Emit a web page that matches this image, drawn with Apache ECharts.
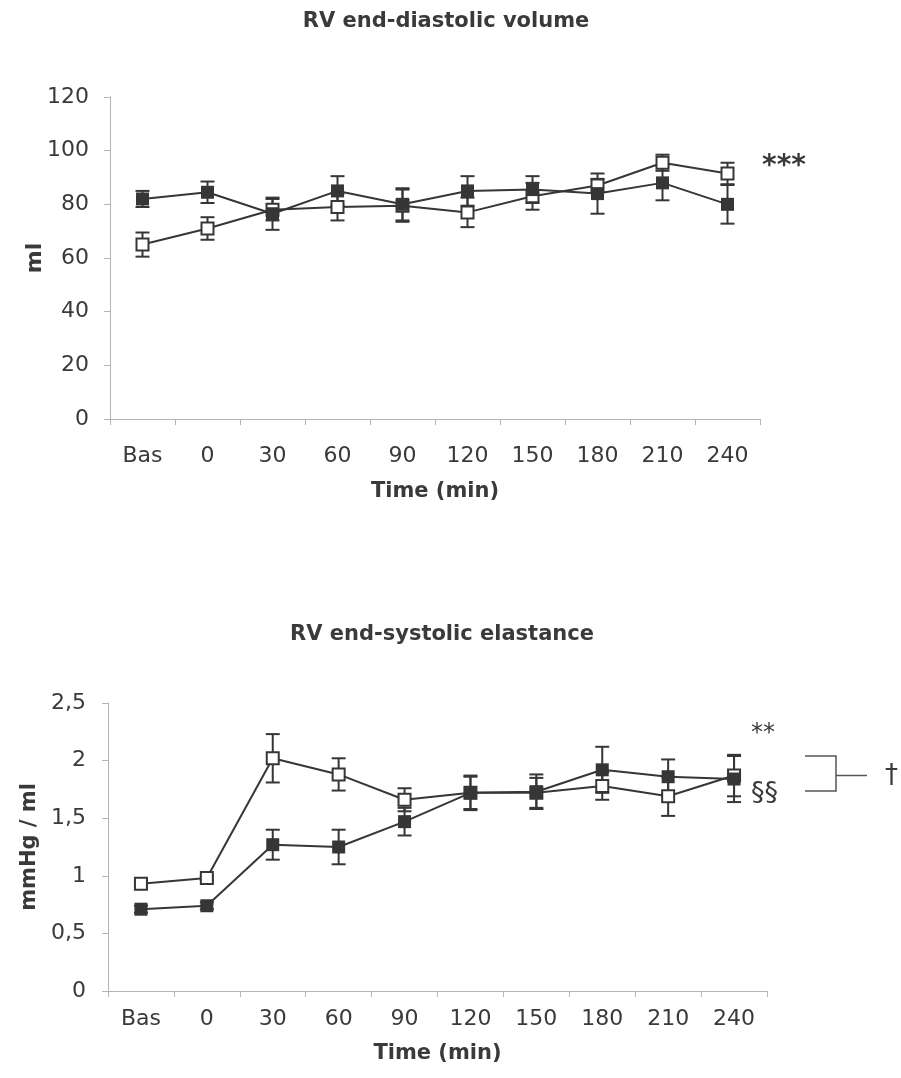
<!DOCTYPE html>
<html>
<head>
<meta charset="utf-8">
<script src="https://cdn.jsdelivr.net/npm/echarts@6/dist/echarts.min.js"></script>
<style>
html,body{margin:0;padding:0;background:#fff;}
#chart{width:901px;height:1078px;}
</style>
</head>
<body>
<div id="chart"></div>
<script>
// ---- data ----
const categories = ['Bas', '0', '30', '60', '90', '120', '150', '180', '210', '240'];

// RV end-diastolic volume (ml)
const edvOpen        = [65, 71, 78, 79, 79.5, 77, 83, 87, 95.5, 91.5];
const edvOpenErr     = [4.5, 4.2, 4, 5, 6, 5.5, 5, 2.5, 3, 4];
const edvFilled      = [82, 84.5, 76.5, 85, 80, 85, 85.5, 84, 88, 80];
const edvFilledErr   = [3, 4, 6, 5.5, 6, 5.5, 5, 7.5, 6.5, 7.2];

// RV end-systolic elastance (mmHg / ml)
const eesOpen        = [0.93, 0.98, 2.02, 1.88, 1.66, 1.72, 1.72, 1.78, 1.69, 1.87];
const eesOpenErr     = [0.02, 0.02, 0.21, 0.14, 0.10, 0.14, 0.13, 0.12, 0.17, 0.18];
const eesFilled      = [0.71, 0.74, 1.27, 1.25, 1.47, 1.72, 1.73, 1.92, 1.86, 1.84];
const eesFilledErr   = [0.03, 0.03, 0.13, 0.15, 0.12, 0.15, 0.15, 0.20, 0.15, 0.20];

const edvTicks = [0, 20, 40, 60, 80, 100, 120];
const eesTicks = ['0', '0,5', '1', '1,5', '2', '2,5'];

// ---- styles ----
const INK = '#363636';
const TXT = '#3a3a3a';
const AX = '#b4b4b4';
const FONT = 'DejaVu Sans';

function errData(vals, errs) {
  return vals.map((v, i) => [i, v, errs[i]]);
}
function errRender(params, api) {
  const x = api.value(0), v = api.value(1), e = api.value(2);
  const hi = api.coord([x, v + e]);
  const lo = api.coord([x, v - e]);
  const w = 7;
  const st = {stroke: INK, lineWidth: 2};
  return {
    type: 'group',
    children: [
      {type: 'line', shape: {x1: hi[0], y1: hi[1], x2: lo[0], y2: lo[1]}, style: st},
      {type: 'line', shape: {x1: hi[0] - w, y1: hi[1], x2: hi[0] + w, y2: hi[1]}, style: st},
      {type: 'line', shape: {x1: lo[0] - w, y1: lo[1], x2: lo[0] + w, y2: lo[1]}, style: st}
    ]
  };
}
function xAx(idx, margin, nameGap) {
  return {
    type: 'category', gridIndex: idx, data: categories, boundaryGap: true,
    axisLine: {lineStyle: {color: AX, width: 1}},
    axisTick: {show: true, inside: false, length: 6, lineStyle: {color: AX}},
    axisLabel: {color: TXT, fontFamily: FONT, fontSize: 22, margin: margin},
    name: 'Time (min)', nameLocation: 'middle', nameGap: nameGap, nameMoveOverlap: false,
    nameTextStyle: {color: TXT, fontFamily: FONT, fontSize: 21, fontWeight: 'bold'}
  };
}

const option = {
  animation: false,
  backgroundColor: '#fff',
  title: [
    {text: 'RV end-diastolic volume', left: 441, top: 6, textAlign: 'center',
     textStyle: {color: TXT, fontFamily: FONT, fontSize: 21, fontWeight: 'bold'}},
    {text: 'RV end-systolic elastance', left: 437, top: 619, textAlign: 'center',
     textStyle: {color: TXT, fontFamily: FONT, fontSize: 21, fontWeight: 'bold'}}
  ],
  grid: [
    {left: 110, top: 97, width: 650, height: 322},
    {left: 108, top: 703, width: 659, height: 288}
  ],
  xAxis: [xAx(0, 26, 62), xAx(1, 17, 52)],
  yAxis: [
    {type: 'value', gridIndex: 0, min: 0, max: 120, interval: 20,
     axisLine: {show: true, lineStyle: {color: AX}},
     axisTick: {show: true, length: 6, lineStyle: {color: AX}},
     splitLine: {show: false},
     axisLabel: {color: TXT, fontFamily: FONT, fontSize: 22, margin: 21,
                 formatter: v => String(edvTicks[edvTicks.indexOf(v)])},
     name: 'ml', nameLocation: 'middle', nameGap: 64, nameMoveOverlap: false,
     nameTextStyle: {color: TXT, fontFamily: FONT, fontSize: 22, fontWeight: 'bold'}},
    {type: 'value', gridIndex: 1, min: 0, max: 2.5, interval: 0.5,
     axisLine: {show: true, lineStyle: {color: AX}},
     axisTick: {show: true, length: 6, lineStyle: {color: AX}},
     splitLine: {show: false},
     axisLabel: {color: TXT, fontFamily: FONT, fontSize: 22, margin: 22,
                 formatter: v => eesTicks[Math.round(v / 0.5)]},
     name: 'mmHg / ml', nameLocation: 'middle', nameGap: 67,
     nameTextStyle: {color: TXT, fontFamily: FONT, fontSize: 21, fontWeight: 'bold'}}
  ],
  series: [
    {type: 'custom', xAxisIndex: 0, yAxisIndex: 0, renderItem: errRender, data: errData(edvOpen, edvOpenErr), encode: {x: 0, y: 1}, z: 1},
    {type: 'custom', xAxisIndex: 0, yAxisIndex: 0, renderItem: errRender, data: errData(edvFilled, edvFilledErr), encode: {x: 0, y: 1}, z: 1},
    {type: 'custom', xAxisIndex: 1, yAxisIndex: 1, renderItem: errRender, data: errData(eesOpen, eesOpenErr), encode: {x: 0, y: 1}, z: 1},
    {type: 'custom', xAxisIndex: 1, yAxisIndex: 1, renderItem: errRender, data: errData(eesFilled, eesFilledErr), encode: {x: 0, y: 1}, z: 1},
    {type: 'line', xAxisIndex: 0, yAxisIndex: 0, data: edvOpen, symbol: 'rect', symbolSize: 12,
     lineStyle: {color: INK, width: 2}, itemStyle: {color: '#fff', borderColor: INK, borderWidth: 2}, z: 3},
    {type: 'line', xAxisIndex: 0, yAxisIndex: 0, data: edvFilled, symbol: 'rect', symbolSize: 13,
     lineStyle: {color: INK, width: 2}, itemStyle: {color: INK, borderColor: INK, borderWidth: 0}, z: 4},
    {type: 'line', xAxisIndex: 1, yAxisIndex: 1, data: eesOpen, symbol: 'rect', symbolSize: 12,
     lineStyle: {color: INK, width: 2}, itemStyle: {color: '#fff', borderColor: INK, borderWidth: 2}, z: 3},
    {type: 'line', xAxisIndex: 1, yAxisIndex: 1, data: eesFilled, symbol: 'rect', symbolSize: 13,
     lineStyle: {color: INK, width: 2}, itemStyle: {color: INK, borderColor: INK, borderWidth: 0}, z: 4}
  ],
  graphic: [
    {type: 'text', left: 762, top: 153, style: {text: '***', fill: TXT, font: 'bold 28px "DejaVu Sans"'}},
    {type: 'text', left: 751, top: 722, style: {text: '**', fill: TXT, font: '24px "DejaVu Sans"'}},
    {type: 'text', left: 751, top: 780, style: {text: '§§', fill: TXT, font: '27px "DejaVu Sans"'}},
    {type: 'polyline', shape: {points: [[805, 756], [836, 756], [836, 791], [805, 791]]}, style: {stroke: '#555', lineWidth: 1.5, fill: null}},
    {type: 'line', shape: {x1: 836, y1: 775.5, x2: 867, y2: 775.5}, style: {stroke: '#555', lineWidth: 1.5}},
    {type: 'text', left: 885, top: 763, style: {text: '†', fill: TXT, font: '26px "DejaVu Sans"'}}
  ]
};

const chart = echarts.init(document.getElementById('chart'));
chart.setOption(option);
</script>
</body>
</html>
